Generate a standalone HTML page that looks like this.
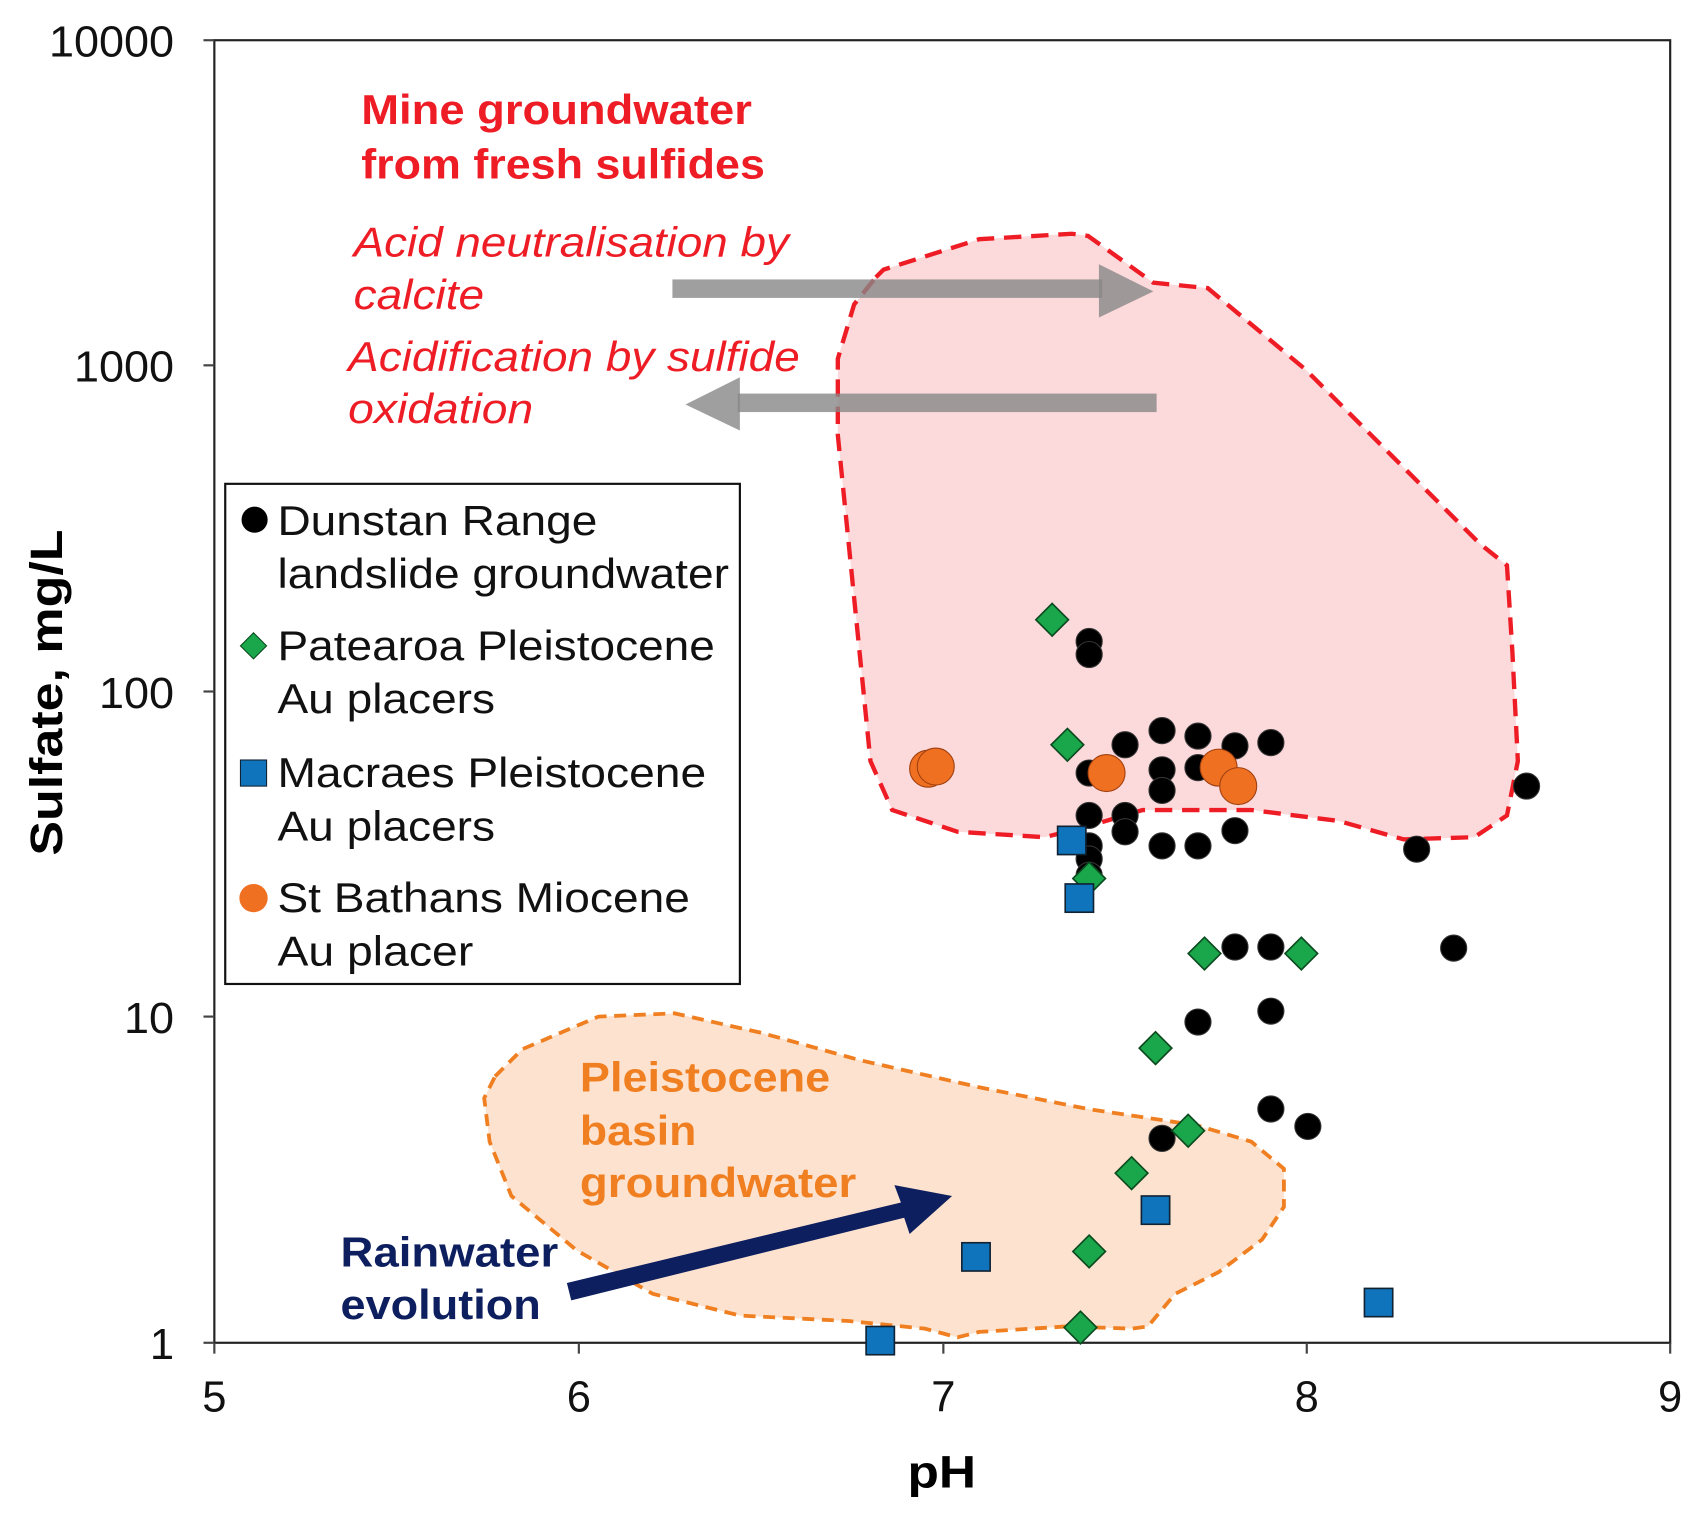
<!DOCTYPE html>
<html><head><meta charset="utf-8"><style>
html,body{margin:0;padding:0;background:#fff}
svg{display:block}
text{font-family:"Liberation Sans",Arial,sans-serif}
</style></head><body>
<svg width="1705" height="1520" viewBox="0 0 1567 1398" preserveAspectRatio="none" xmlns="http://www.w3.org/2000/svg">
<rect x="0" y="0" width="1567" height="1398" fill="#fff"/>
<path d="M805,255 L812,248 L900,220 L985,215 L1000,217 L1060,260 L1110,265 L1200,340 L1280,420 L1360,500 L1385,520 L1390,600 L1395,700 L1385,750 L1355,770 L1290,772 L1230,755 L1150,745 L1050,745 L1000,760 L960,770 L880,765 L820,745 L800,700 L790,600 L780,500 L770,400 L770,330 L785,280 Z" fill="#fcd9db" stroke="#ee1c25" stroke-width="4" stroke-dasharray="16,9"/>
<path d="M455,990 L480,965 L550,935 L620,932 L700,950 L790,975 L900,1000 L1000,1020 L1100,1035 L1150,1050 L1180,1075 L1180,1110 L1160,1140 L1120,1170 L1080,1190 L1055,1220 L1040,1222 L980,1220 L900,1225 L880,1230 L850,1222 L780,1215 L680,1210 L600,1190 L530,1150 L470,1100 L450,1050 L445,1010 Z" fill="#fde3cf" stroke="#f07f22" stroke-width="3.5" stroke-dasharray="11,7"/>
<rect x="197" y="37" width="1338" height="1198" fill="none" stroke="#222" stroke-width="2"/>
<g stroke="#444" stroke-width="2">
<line x1="187" y1="37" x2="197" y2="37"/><line x1="187" y1="336" x2="197" y2="336"/><line x1="187" y1="636" x2="197" y2="636"/><line x1="187" y1="935" x2="197" y2="935"/><line x1="187" y1="1235" x2="197" y2="1235"/>
<line x1="197" y1="1235" x2="197" y2="1245"/><line x1="532" y1="1235" x2="532" y2="1245"/><line x1="867" y1="1235" x2="867" y2="1245"/><line x1="1201" y1="1235" x2="1201" y2="1245"/><line x1="1535" y1="1235" x2="1535" y2="1245"/>
</g>
<g font-size="40" text-anchor="end" fill="#111">
<text x="160" y="52" textLength="115" lengthAdjust="spacingAndGlyphs">10000</text><text x="160" y="351" textLength="92" lengthAdjust="spacingAndGlyphs">1000</text><text x="160" y="651" textLength="69" lengthAdjust="spacingAndGlyphs">100</text><text x="160" y="950" textLength="46" lengthAdjust="spacingAndGlyphs">10</text><text x="160" y="1250">1</text>
</g>
<g font-size="40" text-anchor="middle" fill="#111">
<text x="197" y="1298">5</text><text x="532" y="1298">6</text><text x="867" y="1298">7</text><text x="1201" y="1298">8</text><text x="1535" y="1298">9</text>
</g>
<text x="834" y="1368" font-size="42" font-weight="bold" textLength="63" lengthAdjust="spacingAndGlyphs">pH</text>
<text transform="translate(57,787) rotate(-90)" font-size="42" font-weight="bold" textLength="300" lengthAdjust="spacingAndGlyphs">Sulfate, mg/L</text>
<g fill="rgba(135,135,135,0.8)">
<rect x="618" y="257" width="395" height="17"/><polygon points="1010,243 1060,268 1010,292"/>
<rect x="678" y="362" width="385" height="17"/><polygon points="680,347 630,372 680,396"/>
</g>
<polygon points="521,1180 828,1106 822,1090 875,1100 836,1135 831,1120 525,1196" fill="#0d1f5e"/>
<g fill="#ee1c25" font-size="38" lengthAdjust="spacingAndGlyphs">
<text x="332" y="114" font-weight="bold" textLength="359" lengthAdjust="spacingAndGlyphs">Mine groundwater</text>
<text x="332" y="164" font-weight="bold" textLength="371" lengthAdjust="spacingAndGlyphs">from fresh sulfides</text>
<text x="325" y="236" font-style="italic" textLength="400" lengthAdjust="spacingAndGlyphs">Acid neutralisation by</text>
<text x="325" y="284" font-style="italic" textLength="120" lengthAdjust="spacingAndGlyphs">calcite</text>
<text x="320" y="341" font-style="italic" textLength="415" lengthAdjust="spacingAndGlyphs">Acidification by sulfide</text>
<text x="320" y="389" font-style="italic" textLength="170" lengthAdjust="spacingAndGlyphs">oxidation</text>
</g>
<g fill="#f07f22" font-size="38" font-weight="bold">
<text x="533" y="1004" textLength="230" lengthAdjust="spacingAndGlyphs">Pleistocene</text><text x="533" y="1053" textLength="107" lengthAdjust="spacingAndGlyphs">basin</text><text x="533" y="1101" textLength="254" lengthAdjust="spacingAndGlyphs">groundwater</text>
</g>
<g fill="#0d1f5e" font-size="38" font-weight="bold">
<text x="313" y="1165" textLength="200" lengthAdjust="spacingAndGlyphs">Rainwater</text><text x="313" y="1213" textLength="184" lengthAdjust="spacingAndGlyphs">evolution</text>
</g>
<g fill="#000" stroke="#333" stroke-width="1">
<circle cx="1001" cy="590" r="12"/><circle cx="1001" cy="602" r="12"/><circle cx="1034" cy="685" r="12"/><circle cx="1068" cy="672" r="12"/><circle cx="1101" cy="677" r="12"/><circle cx="1135" cy="686" r="12"/><circle cx="1168" cy="683" r="12"/><circle cx="1001" cy="711" r="12"/><circle cx="1068" cy="708" r="12"/><circle cx="1101" cy="706" r="12"/><circle cx="1068" cy="727" r="12"/><circle cx="1001" cy="750" r="12"/><circle cx="1034" cy="750" r="12"/><circle cx="1034" cy="765" r="12"/><circle cx="1068" cy="778" r="12"/><circle cx="1101" cy="778" r="12"/><circle cx="1135" cy="764" r="12"/><circle cx="1001" cy="778" r="12"/><circle cx="1001" cy="790" r="12"/><circle cx="1001" cy="805" r="12"/><circle cx="1302" cy="781" r="12"/><circle cx="1403" cy="723" r="12"/><circle cx="1135" cy="871" r="12"/><circle cx="1168" cy="871" r="12"/><circle cx="1336" cy="872" r="12"/><circle cx="1101" cy="940" r="12"/><circle cx="1168" cy="930" r="12"/><circle cx="1168" cy="1020" r="12"/><circle cx="1202" cy="1036" r="12"/><circle cx="1068" cy="1047" r="12"/>
</g>
<g fill="#1aa64a" stroke="#0b4a1f" stroke-width="1.5">
<polygon points="967,555 982,570 967,585 952,570"/><polygon points="981,670 996,685 981,700 966,685"/><polygon points="1001,793 1016,808 1001,823 986,808"/><polygon points="1107,862 1122,877 1107,892 1092,877"/><polygon points="1196,862 1211,877 1196,892 1181,877"/><polygon points="1062,949 1077,964 1062,979 1047,964"/><polygon points="1092,1025 1107,1040 1092,1055 1077,1040"/><polygon points="1040,1064 1055,1079 1040,1094 1025,1079"/><polygon points="1001,1136 1016,1151 1001,1166 986,1151"/><polygon points="993,1206 1008,1221 993,1236 978,1221"/>
</g>
<g fill="#0f74bb" stroke="#123" stroke-width="1.5">
<rect x="972" y="760" width="26" height="26"/><rect x="979" y="813" width="26" height="26"/><rect x="1049" y="1100" width="26" height="26"/><rect x="884" y="1143" width="26" height="26"/><rect x="1254" y="1185" width="26" height="26"/><rect x="796" y="1220" width="26" height="26"/>
</g>
<g fill="#f07022" stroke="#a04010" stroke-width="1">
<circle cx="853" cy="707" r="17"/><circle cx="860" cy="705" r="17"/><circle cx="1017" cy="711" r="17"/><circle cx="1120" cy="706" r="17"/><circle cx="1138" cy="723" r="17"/>
</g>
<rect x="207" y="445" width="473" height="460" fill="#fff" stroke="#111" stroke-width="2"/>
<circle cx="234" cy="478" r="12" fill="#000"/>
<polygon points="233,582 245,594 233,606 221,594" fill="#1aa64a" stroke="#0b4a1f"/>
<rect x="221" y="699" width="24" height="24" fill="#0f74bb" stroke="#123"/>
<circle cx="233" cy="826" r="13" fill="#f07022"/>
<g font-size="38" fill="#111">
<text x="255" y="492" textLength="294" lengthAdjust="spacingAndGlyphs">Dunstan Range</text><text x="255" y="541" textLength="415" lengthAdjust="spacingAndGlyphs">landslide groundwater</text>
<text x="255" y="607" textLength="402" lengthAdjust="spacingAndGlyphs">Patearoa Pleistocene</text><text x="255" y="656" textLength="200" lengthAdjust="spacingAndGlyphs">Au placers</text>
<text x="255" y="724" textLength="394" lengthAdjust="spacingAndGlyphs">Macraes Pleistocene</text><text x="255" y="773" textLength="200" lengthAdjust="spacingAndGlyphs">Au placers</text>
<text x="255" y="839" textLength="379" lengthAdjust="spacingAndGlyphs">St Bathans Miocene</text><text x="255" y="888" textLength="180" lengthAdjust="spacingAndGlyphs">Au placer</text>
</g>
</svg>
</body></html>
